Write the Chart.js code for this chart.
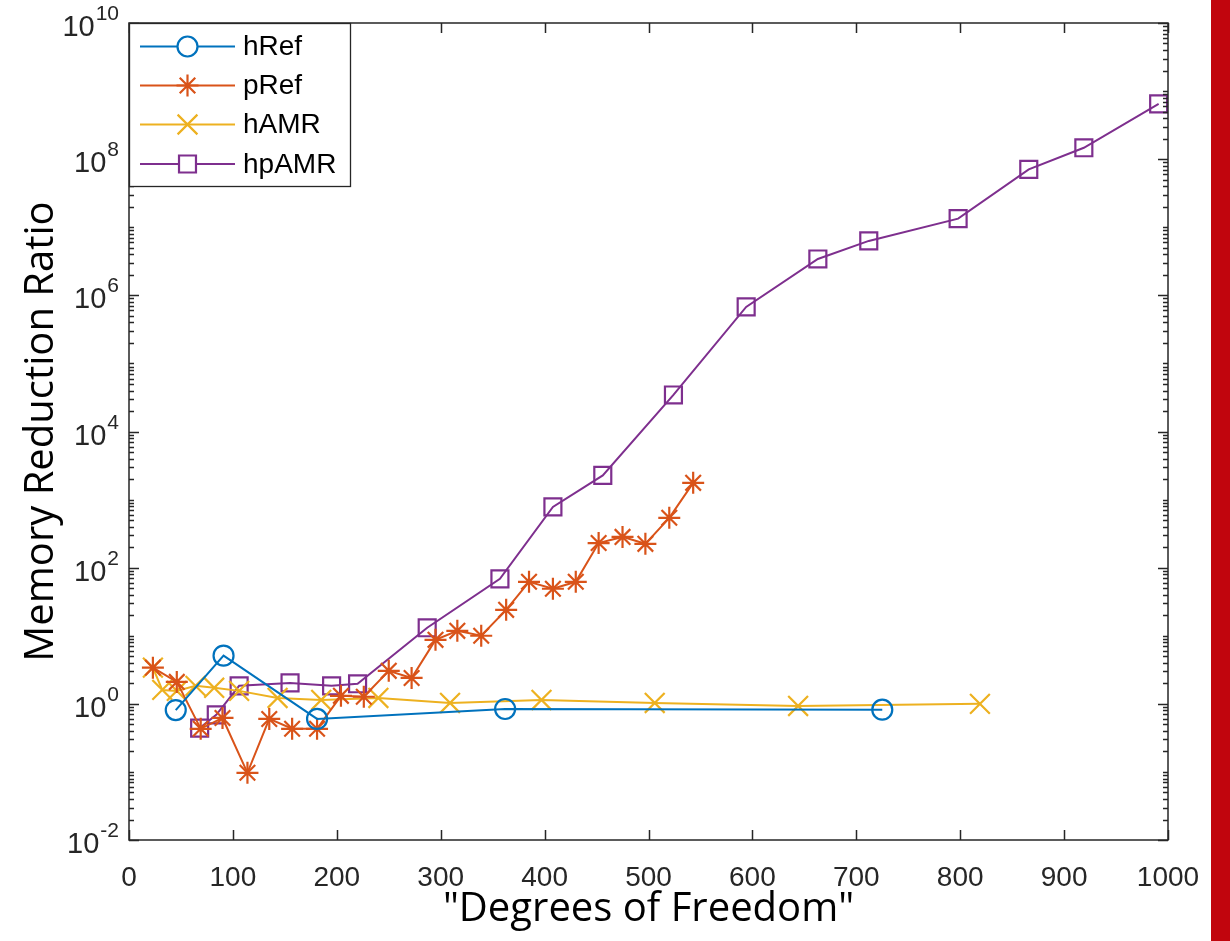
<!DOCTYPE html>
<html><head><meta charset="utf-8">
<script src="https://cdn.jsdelivr.net/npm/chart.js@4.4.1/dist/chart.umd.min.js"></script>
<style>
html,body{margin:0;padding:0;background:#fff;overflow:hidden}
#wrap{position:absolute;left:0;top:0;width:1230px;height:941px}
#bar{position:absolute;left:1211px;top:0;width:19px;height:941px;background:#C1050D}
</style></head><body>
<div id="wrap"><canvas id="c" width="1230" height="941"></canvas></div>
<div id="bar"></div>
<script>
const seriesNames = ['hRef', 'pRef', 'hAMR', 'hpAMR'];
const seriesColors = ['#0072BD', '#D95319', '#EDB120', '#7E2F8E'];
const hRefDof = [45, 91, 181, 362, 725];
const hRefRatio = [0.81, 5.1, 0.60, 0.84, 0.82];
const pRefDof = [23, 46, 69, 90, 114, 135, 157, 181, 204, 226, 250, 272, 295, 316, 339, 363, 385, 408, 430, 452, 475, 497, 520, 543];
const pRefRatio = [3.4, 2.1, 0.43, 0.62, 0.097, 0.60, 0.43, 0.43, 1.31, 1.27, 3.05, 2.4, 8.7, 11.8, 10, 24, 62, 49, 62, 230, 283, 224, 540, 1760];
const hAMRDof = [23, 32, 46, 64, 82, 106, 143, 185, 240, 309, 397, 506, 644, 819];
const hAMRRatio = [3.4, 1.6, 1.55, 1.84, 1.72, 1.55, 1.22, 1.14, 1.22, 1.03, 1.14, 1.03, 0.93, 1.0];
const hpAMRDof = [68, 84, 106, 155, 195, 220, 287, 357, 408, 456, 524, 594, 663, 712, 798, 866, 919, 991];
const hpAMRRatio = [0.44, 0.69, 1.84, 2.03, 1.84, 1.97, 13.1, 68.5, 781, 2265, 34400, 676000, 3.42e6, 6.3e6, 1.34e7, 7.08e7, 1.47e8, 6.5e8];
const xTickValues = [0, 100, 200, 300, 400, 500, 600, 700, 800, 900, 1000];
const yTickExponents = [-2, 0, 2, 4, 6, 8, 10];
const xTitle = '"Degrees of Freedom"';
const yTitle = 'Memory Reduction Ratio';

const pts = (xs, ys) => xs.map((v, i) => ({x: v, y: ys[i]}));
const markerStyles = [
  {pointStyle: 'circle', radius: 10},
  {pointStyle: 'star', radius: 11},
  {pointStyle: 'crossRot', radius: 14},
  {pointStyle: 'rect', radius: 12}
];
const dataArrays = [[hRefDof, hRefRatio], [pRefDof, pRefRatio], [hAMRDof, hAMRRatio], [hpAMRDof, hpAMRRatio]];

const datasets = seriesNames.map((name, i) => ({
  label: name,
  data: pts(dataArrays[i][0], dataArrays[i][1]),
  borderColor: seriesColors[i],
  backgroundColor: 'rgba(0,0,0,0)',
  pointBackgroundColor: 'rgba(0,0,0,0)',
  pointBorderColor: seriesColors[i],
  pointBorderWidth: 2.2,
  borderWidth: 2,
  pointStyle: markerStyles[i].pointStyle,
  pointRadius: markerStyles[i].radius,
  pointHoverRadius: markerStyles[i].radius,
  tension: 0,
  fill: false
}));

const AXIS_COLOR = '#262626';
const TICK_FONT = '"Liberation Sans", Arial, sans-serif';

const matlabAxes = {
  id: 'matlabAxes',
  afterDraw(chart) {
    const {ctx, chartArea: a, scales: {x, y}} = chart;
    ctx.save();
    ctx.strokeStyle = AXIS_COLOR;
    ctx.lineWidth = 1.5;
    ctx.strokeRect(a.left, a.top, a.right - a.left, a.bottom - a.top);
    ctx.beginPath();
    xTickValues.forEach(v => {
      const px = Math.round(x.getPixelForValue(v)) + 0.5;
      ctx.moveTo(px, a.bottom); ctx.lineTo(px, a.bottom - 10);
      ctx.moveTo(px, a.top); ctx.lineTo(px, a.top + 10);
    });
    for (let e = -2; e <= 10; e++) {
      for (let m = 1; m < 10; m++) {
        if (e === 10 && m > 1) break;
        const v = m * Math.pow(10, e);
        const py = Math.round(y.getPixelForValue(v)) + 0.5;
        const major = (m === 1 && yTickExponents.includes(e));
        const len = major ? 10 : 5;
        ctx.moveTo(a.left, py); ctx.lineTo(a.left + len, py);
        ctx.moveTo(a.right, py); ctx.lineTo(a.right - len, py);
      }
    }
    ctx.stroke();
    // y tick labels: 10 with superscript exponent
    ctx.fillStyle = AXIS_COLOR;
    ctx.textBaseline = 'alphabetic';
    ctx.textAlign = 'left';
    const xEnd = 119;
    yTickExponents.forEach(e => {
      const py = y.getPixelForValue(Math.pow(10, e));
      const expStr = String(e);
      ctx.font = '21px ' + TICK_FONT;
      const expW = ctx.measureText(expStr).width;
      ctx.font = '29px ' + TICK_FONT;
      const baseW = ctx.measureText('10').width;
      ctx.fillText('10', xEnd - expW - baseW - 1, py + 13);
      ctx.font = '21px ' + TICK_FONT;
      ctx.fillText(expStr, xEnd - expW, py - 3);
    });
    // legend
    const lx = a.left, ly = a.top, lw = 221, lh = 163;
    ctx.fillStyle = '#ffffff';
    ctx.fillRect(lx, ly, lw, lh);
    ctx.strokeStyle = AXIS_COLOR;
    ctx.lineWidth = 1.3;
    ctx.strokeRect(lx + 0.5, ly + 0.5, lw, lh);
    const rows = [46.5, 85.5, 124.5, 164];
    chart.data.datasets.forEach((ds, i) => {
      const ry = rows[i];
      ctx.strokeStyle = ds.borderColor;
      ctx.lineWidth = 2;
      ctx.beginPath(); ctx.moveTo(140, ry); ctx.lineTo(235, ry); ctx.stroke();
      ctx.fillStyle = '#ffffff';
      ctx.lineWidth = 2.2;
      Chart.helpers.drawPoint(ctx, {pointStyle: ds.pointStyle, radius: ds.pointRadius, rotation: 0, borderWidth: 2.2}, 187.5, ry);
      ctx.fillStyle = '#000000';
      ctx.font = '28px ' + TICK_FONT;
      ctx.textBaseline = 'middle';
      ctx.fillText(ds.label, 243, ry + 1);
    });
    ctx.restore();
  }
};

new Chart(document.getElementById('c'), {
  type: 'line',
  data: {datasets},
  options: {
    responsive: false,
    animation: false,
    layout: {padding: {top: 23, right: 62, left: 0, bottom: 0}},
    plugins: {legend: {display: false}, tooltip: {enabled: false}},
    scales: {
      x: {
        type: 'linear', min: 0, max: 1000,
        afterBuildTicks: s => { s.ticks = xTickValues.map(v => ({value: v})); },
        afterFit: s => { s.height = 101; },
        grid: {display: false, drawTicks: false},
        border: {display: false},
        ticks: {color: AXIS_COLOR, padding: 21, maxRotation: 0, autoSkip: false,
          callback: v => String(v),
          font: {family: TICK_FONT, size: 28}},
        title: {display: true, text: xTitle, color: '#000000', padding: {top: 0, bottom: 7},
          font: {family: '"Open Sans", sans-serif', size: 40}}
      },
      y: {
        type: 'logarithmic', min: 0.01, max: 1e10,
        afterFit: s => { s.width = 129; },
        grid: {display: false, drawTicks: false},
        border: {display: false},
        ticks: {display: false},
        title: {display: true, text: yTitle, color: '#000000', padding: {top: 18, bottom: 0},
          font: {family: '"Open Sans", sans-serif', size: 40}}
      }
    }
  },
  plugins: [matlabAxes]
});
</script>
</body></html>
